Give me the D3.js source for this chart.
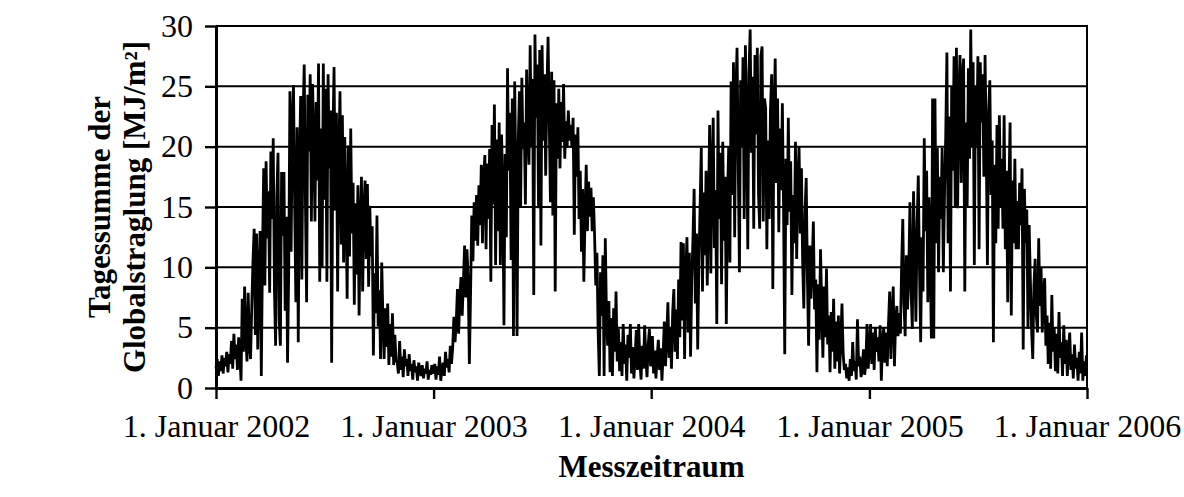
<!DOCTYPE html>
<html>
<head>
<meta charset="utf-8">
<script src="https://cdn.jsdelivr.net/npm/d3@7"></script>
<style>
  html, body { margin: 0; padding: 0; background: #fff; }
  svg { display: block; font-family: "Liberation Serif", "Times New Roman", serif; }
</style>
</head>
<body>
<svg id="chart" width="1184" height="497"></svg>
<script>
// Daily global radiation sums [MJ/m²], one value every second day, per year
const radiation2002 = [
  1.6, 2.4, 1.0, 2.2, 1.4, 2.7, 1.2, 2.5, 1.8, 3.0, 1.3, 2.8,
  2.0, 3.9, 1.6, 4.5, 2.4, 3.6, 1.5, 4.2, 2.6, 0.6,
  7.4, 3.0, 8.4, 4.1, 2.2, 7.9, 3.5, 2.4, 6.8,
  10.5, 13.2, 4.4, 12.8, 3.2, 9.6, 13.0,
  1.0,
  11.2, 18.2, 8.5, 18.8, 12.4, 16.3, 7.9, 19.6, 14.0, 20.7,
  8.2, 3.5, 15.8, 19.5, 5.6, 3.5, 17.9, 12.6,
  17.9, 6.4, 14.2, 2.1, 9.8,
  24.6, 11.3, 22.0, 25.1,
  14.8, 7.1, 21.6, 3.8, 18.4, 24.2, 9.0,
  22.5, 26.8, 15.4, 7.1, 24.3, 19.6,
  26.0, 13.8, 25.2, 20.4, 13.8, 23.7,
  17.2, 26.9, 8.8, 21.5, 10.0, 26.9, 15.6,
  24.8, 8.8, 26.0, 18.2, 23.0, 2.1,
  20.4, 26.6, 14.7, 22.8,
  8.0, 19.5, 24.6, 11.9, 22.6,
  10.4, 20.8, 15.0, 7.4, 20.1, 10.9, 21.5,
  12.8, 17.0, 6.9, 15.3, 9.4, 16.8, 6.0, 13.5,
  17.5, 8.0, 14.6, 17.2, 10.7, 16.9, 8.4, 15.1, 10.9, 13.4,
  2.7, 9.5, 6.2, 14.3, 5.1,
  8.1, 2.4, 10.4, 5.8, 2.4,
  6.6, 3.4, 7.0, 1.9, 5.3, 2.6, 6.2, 1.9, 4.4, 2.3,
  2.1, 1.2, 3.9, 1.5, 2.6, 0.9, 3.2, 1.8, 2.4, 1.0, 2.8, 1.4, 2.0, 0.7, 2.3, 1.3,
  1.8, 0.6, 2.1, 1.5, 1.0, 1.9, 0.8, 1.6, 1.2, 2.2, 0.7, 1.5, 1.1, 1.9, 1.3
];
const radiation2003 = [
  1.2, 2.0, 0.7, 1.8, 1.1, 2.6, 0.6, 1.5, 2.1, 1.0, 3.0, 1.7, 2.4, 1.3,
  3.5, 2.0, 3.3, 5.9, 3.8, 5.5,
  8.2, 4.5, 7.6, 9.2, 6.0, 8.9,
  11.8, 7.5, 11.5, 9.0, 2.0,
  7.8, 14.3, 10.5, 15.4, 12.2, 16.0,
  11.8, 16.8, 13.5, 18.5, 12.0, 17.4,
  19.3, 11.5, 18.6, 14.0, 19.8,
  8.8, 21.8, 15.2, 23.5, 10.2, 20.6, 13.0, 22.0,
  10.2, 21.0, 16.5, 5.2, 19.4, 12.5,
  26.5, 18.0, 22.8, 10.6, 24.0, 4.3, 25.4, 17.2,
  4.3, 20.5, 24.6, 15.0, 25.7, 19.8, 22.0, 15.2, 26.4, 21.5, 18.5,
  28.4, 20.0, 25.6, 7.7, 29.3, 22.4,
  26.8, 14.9, 28.0, 11.8, 28.4, 20.5, 26.0, 17.6,
  24.5, 29.1, 22.0, 15.4, 26.2,
  14.3, 25.5, 8.0, 23.6, 19.0,
  24.8, 18.2, 23.7, 20.4, 25.2, 19.0,
  22.1, 19.9, 23.0, 20.5, 21.8, 19.9, 22.4,
  12.7, 21.0, 17.5, 21.6, 14.0,
  18.0, 11.3, 16.5, 8.8, 14.2, 18.5,
  13.0, 17.1, 14.2, 16.6, 13.0, 15.8,
  12.7, 8.5, 11.2, 4.6, 1.0,
  9.6, 6.0, 11.0, 1.0, 12.4, 6.0,
  3.5, 7.2, 1.3, 5.8, 1.0, 6.6, 3.0, 8.0, 2.2, 4.9, 1.4,
  3.8, 1.0, 5.3, 2.0, 3.6, 0.6, 4.4, 2.5, 5.3, 1.2, 3.4, 0.8, 2.6,
  4.8, 1.5, 5.3, 2.2, 0.7, 3.5, 1.6, 5.2, 2.4, 0.9, 3.6, 4.9, 1.8
];
const radiation2004 = [
  2.0, 4.3, 1.2, 3.1, 0.8, 2.6, 4.0, 1.5, 3.3, 0.6, 2.8,
  5.5, 1.8, 4.2, 7.1, 2.5, 5.0, 1.6, 6.3,
  8.2, 3.0, 6.5, 2.4, 9.0, 4.2, 12.1, 5.6,
  12.0, 2.4, 9.5, 12.5, 4.6, 11.2, 2.6, 8.8, 12.3,
  16.5, 7.0, 12.8, 3.2, 10.4, 15.0,
  19.9, 8.0, 16.2, 11.0, 18.0, 8.5,
  14.5, 21.8, 9.5, 18.0, 22.4, 11.6, 16.4,
  5.3, 23.0, 14.0, 19.5, 8.6,
  20.4, 12.2, 17.5, 5.3, 15.8, 20.0, 10.4,
  25.4, 16.0, 27.0, 12.5, 24.4,
  28.2, 18.6, 9.6, 25.5, 20.0, 27.4, 14.0, 28.4, 22.5, 11.5, 26.0,
  29.7, 19.5, 25.8, 13.2, 27.6, 21.0,
  28.2, 16.0, 13.2, 27.5, 28.3, 13.8, 24.0,
  23.2, 11.5, 20.5, 14.0, 23.0,
  26.0, 8.2, 22.8, 27.3, 17.0,
  24.0, 12.9, 21.5, 16.4, 23.6, 15.0,
  2.8, 19.0, 13.5,
  22.4, 14.6, 18.8, 7.7, 16.0,
  12.0, 20.4, 10.7, 17.0, 20.0, 12.8, 18.2,
  10.5, 6.6, 14.5, 17.4, 9.2,
  3.5, 11.8, 7.4, 10.2, 13.8, 6.5,
  9.0, 1.3, 8.6, 4.0, 11.5, 6.8,
  2.5, 8.4, 4.2, 9.9, 3.6, 6.0,
  1.3, 6.3, 3.0, 7.4, 1.6, 5.5, 2.2, 6.0, 1.2, 4.0, 7.0, 2.8,
  1.5, 2.0, 0.8, 1.7, 0.6, 2.4, 1.0, 3.8, 1.4, 2.2, 0.7,
  5.7, 1.8, 2.6, 0.9, 1.5, 3.2, 1.1, 2.0, 5.3, 1.6
];
const radiation2005 = [
  3.4, 5.3, 2.0, 4.6, 1.5, 5.0, 3.0, 4.2, 2.2, 5.2, 0.6, 3.8,
  5.0, 2.1, 4.6, 1.8, 5.3, 8.0,
  2.4, 6.0, 8.4, 1.8,
  5.5, 6.8, 4.3, 6.2, 4.5,
  10.0, 14.0, 7.0, 4.3, 11.0, 6.5,
  9.5, 15.4, 8.0, 4.9, 16.3, 11.0, 5.5, 13.5,
  17.6, 10.0, 3.8, 12.5, 8.0,
  20.7, 13.0, 18.0, 7.1, 15.8,
  10.5, 4.1, 24.0, 4.1, 24.0, 12.0,
  19.9, 9.6, 17.5, 14.0, 19.9, 9.6, 16.0, 20.8,
  27.8, 12.0, 22.5, 8.0, 25.0, 18.0,
  27.5, 15.0, 28.2, 14.9, 24.0, 27.6, 17.0, 26.0,
  27.3, 8.0, 22.0, 15.0, 26.5, 19.0,
  29.7, 20.0, 27.0, 10.2, 25.0, 19.9, 27.5,
  11.5, 27.0, 22.0, 26.0, 17.5,
  27.6, 20.0, 10.2, 23.0,
  25.5, 16.0, 20.5, 3.8, 18.5, 12.0,
  21.8, 13.2, 22.6, 15.0, 19.0, 13.2,
  22.6, 11.5, 18.0, 7.1, 16.5,
  22.0, 6.0, 17.2, 12.0, 19.0, 11.5,
  15.5, 11.5, 17.0, 13.5, 18.2,
  3.2, 16.5, 12.0, 14.8, 4.9, 13.5,
  9.0, 4.9, 2.4, 8.5, 10.7, 6.0, 4.6,
  12.4, 6.8, 10.0, 4.6, 8.0,
  9.1, 3.5, 6.0, 2.0, 5.4, 1.6, 7.7, 3.0, 5.0, 1.4,
  4.5, 1.2, 6.3, 2.5, 3.8, 1.0, 5.2, 2.0, 4.0, 1.0, 3.0, 4.6, 1.5, 2.8,
  0.8, 3.6, 1.6, 2.5, 0.6, 3.0, 1.2, 4.6, 0.6, 2.2, 1.0, 2.7
];

const years = [2002, 2003, 2004, 2005];
const seriesByYear = [radiation2002, radiation2003, radiation2004, radiation2005];
const yTicks = [0, 5, 10, 15, 20, 25, 30];
const xTickYears = [2002, 2003, 2004, 2005, 2006];
const xTickLabel = y => `1. Januar ${y}`;
const yTitleLines = ["Tagessumme der", "Globalstraglung [MJ/m²]"];
const xTitle = "Messzeitraum";

// Flatten: each value sits on every second day of its year
const points = [];
years.forEach((yr, k) => {
  seriesByYear[k].forEach((v, i) => points.push({ date: new Date(yr, 0, 1 + 2 * i), value: v }));
});

const svg = d3.select("#chart");
const W = 1184, H = 497;
const margin = { left: 216, right: 97, top: 26, bottom: 109 };
const x0 = margin.left, x1 = W - margin.right, y0 = margin.top, y1 = H - margin.bottom;
const fontFamily = '"Liberation Serif", "Times New Roman", serif';

const x = d3.scaleTime().domain([new Date(2002, 0, 1), new Date(2006, 0, 1)]).range([x0, x1]);
const y = d3.scaleLinear().domain([0, 30]).range([y1, y0]);

// Horizontal gridlines (the 30 line doubles as the top frame)
svg.append("g").selectAll("line").data(yTicks.filter(t => t > 0)).join("line")
  .attr("x1", x0).attr("x2", x1)
  .attr("y1", d => y(d)).attr("y2", d => y(d))
  .attr("stroke", "#000").attr("stroke-width", 2);

// Right frame
svg.append("line").attr("x1", x1).attr("x2", x1).attr("y1", y0 - 1).attr("y2", y1)
  .attr("stroke", "#000").attr("stroke-width", 2);

// Radiation line
svg.append("path").datum(points)
  .attr("fill", "none").attr("stroke", "#000").attr("stroke-width", 2.8)
  .attr("stroke-linejoin", "miter").attr("stroke-miterlimit", 2)
  .attr("d", d3.line().x(d => x(d.date)).y(d => y(d.value)));

// Y axis
const yAxis = svg.append("g").attr("transform", `translate(${x0},0)`)
  .call(d3.axisLeft(y).tickValues(yTicks).tickSize(11).tickPadding(12).tickSizeOuter(0));
// X axis
const xAxis = svg.append("g").attr("transform", `translate(0,${y1})`)
  .call(d3.axisBottom(x).tickValues(xTickYears.map(yr => new Date(yr, 0, 1)))
    .tickFormat(d => xTickLabel(d.getFullYear())).tickSize(11).tickPadding(15).tickSizeOuter(0));

[yAxis, xAxis].forEach(g => {
  g.select(".domain").attr("stroke", "#000").attr("stroke-width", 3);
  g.selectAll(".tick line").attr("stroke", "#000").attr("stroke-width", 2.4);
  g.selectAll(".tick text").attr("fill", "#000")
    .style("font-family", fontFamily)
    .style("font-size", "32px");
});

// Axis titles
const yTitle = svg.append("text")
  .attr("transform", `translate(0,${(y0 + y1) / 2}) rotate(-90)`)
  .attr("text-anchor", "middle")
  .style("font-family", fontFamily)
  .style("font-size", "31px").style("font-weight", "bold");
yTitle.selectAll("tspan").data(yTitleLines).join("tspan")
  .attr("x", 0).attr("y", (d, i) => i === 0 ? 110 : 145)
  .text(d => d);

svg.append("text")
  .attr("x", (x0 + x1) / 2).attr("y", 477)
  .attr("text-anchor", "middle")
  .style("font-family", fontFamily)
  .style("font-size", "31px").style("font-weight", "bold")
  .text(xTitle);
</script>
</body>
</html>
